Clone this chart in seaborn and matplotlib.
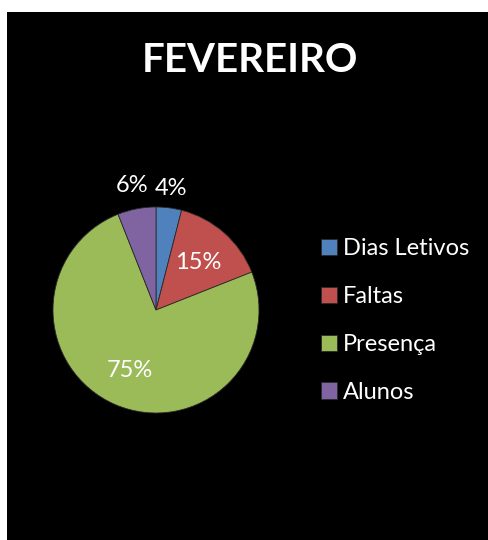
import matplotlib
matplotlib.use("Agg")
import matplotlib.pyplot as plt
import seaborn as sns
import numpy as np
from matplotlib.patches import Rectangle

# dados
categorias = ['Dias Letivos', 'Faltas', 'Presença', 'Alunos']
valores = [4, 15, 75, 6]
titulo = 'FEVEREIRO'

sns.set_theme(style="dark")
plt.rcParams['font.family'] = ['Lato', 'DejaVu Sans']

cores = sns.color_palette(['#4F81BD', '#C0504D', '#9BBB59', '#8064A2'])

W, H = 489, 540
fig = plt.figure(figsize=(W / 100, H / 100), dpi=100)
fig.patch.set_facecolor('white')
fig.patches.append(Rectangle((7 / W, 0), 1 - 7 / W, 1 - 12 / H, transform=fig.transFigure,
                             facecolor='black', edgecolor='none', zorder=-1))

# eixo do pizza, centro (156,310) px, raio 103 px
half = 130
ax = fig.add_axes([(156 - half) / W, (H - 310 - half) / H, 2 * half / W, 2 * half / H])
ax.set_zorder(2)
ax.set_facecolor('none')
lim = half / 103
wedges, _ = ax.pie(valores, colors=cores, startangle=90, counterclock=False, radius=1,
                   wedgeprops=dict(edgecolor='#2a2a2a', linewidth=0.6))
ax.set_xlim(-lim, lim)
ax.set_ylim(-lim, lim)
ax.set_aspect('equal')
ax.axis('off')

# rótulos de porcentagem
dist = [1.19, 0.62, 0.64, 1.23]
total = sum(valores)
for w, v, d in zip(wedges, valores, dist):
    ang = np.deg2rad((w.theta1 + w.theta2) / 2)
    ax.text(d * np.cos(ang), d * np.sin(ang), f"{v / total:.0%}", color='white',
            fontsize=17, ha='center', va='center')

fig.text(250 / W, 1 - 72 / H, titulo, color='white', fontsize=29, fontweight='bold',
         ha='center', va='baseline')

fs = 17
leg = fig.legend(wedges, categorias, loc='center left', bbox_to_anchor=(321 / W, 1 - 320.5 / H),
                 frameon=False, fontsize=fs, labelcolor='white', borderpad=0, borderaxespad=0,
                 handlelength=0.68, handleheight=0.68, handletextpad=0.25, labelspacing=1.14)
leg.set_zorder(3)

fig.savefig('out.png', dpi=100, facecolor=fig.get_facecolor())
